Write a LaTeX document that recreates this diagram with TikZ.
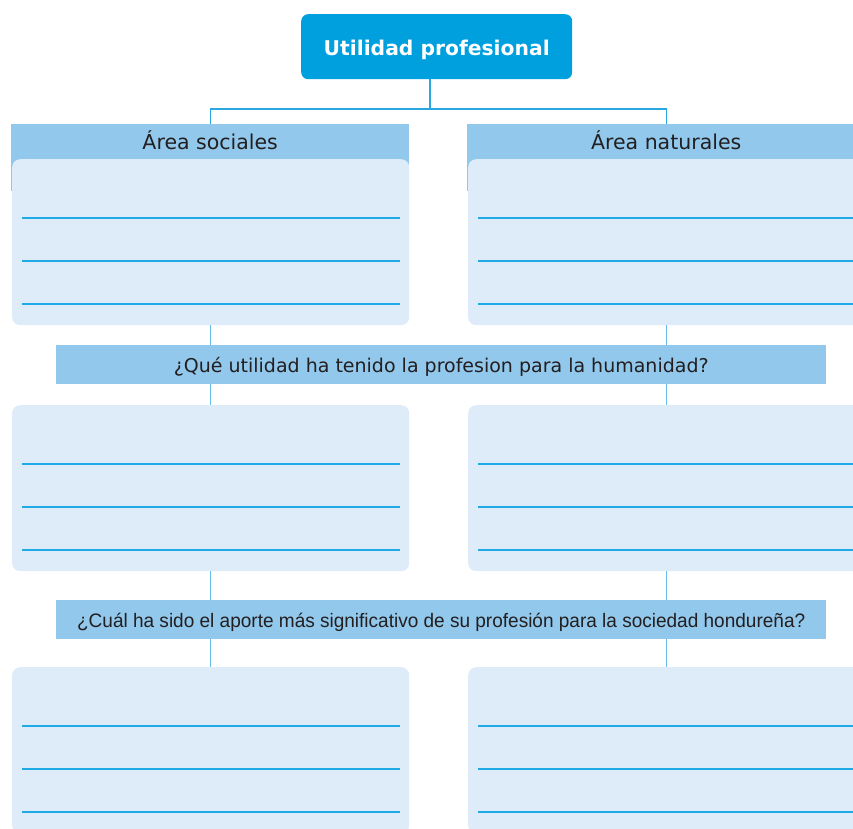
\documentclass[tikz,border=0pt]{standalone}
\usepackage{fontspec}
\setmainfont{DejaVu Sans}
\newfontfamily\arialfont{Liberation Sans}
\definecolor{topblue}{RGB}{0,160,223}
\definecolor{hdrblue}{RGB}{146,200,236}
\definecolor{boxblue}{RGB}{222,235,248}
\definecolor{lineblue}{RGB}{30,170,230}
\definecolor{connblue}{RGB}{41,168,224}
\definecolor{connlight}{RGB}{105,190,236}
\definecolor{txt}{RGB}{35,31,32}
\newcommand{\shiftedtext}[2]{\raisebox{#1}[\height][\depth]{#2}}
\begin{document}
\begin{tikzpicture}[x=1pt,y=-1pt,
  topbox/.style={fill=topblue,rounded corners=7pt,minimum width=271pt,minimum height=65pt,inner sep=0pt,anchor=north west,text=white,font=\bfseries\fontsize{20.3}{24}\selectfont},
  hdrbox/.style={fill=hdrblue,minimum width=398pt,minimum height=35pt,inner sep=0pt,anchor=north west,text=txt,font=\fontsize{20.5}{24}\selectfont},
  areabox/.style={fill=boxblue,rounded corners=8pt,minimum width=397pt,minimum height=166pt,inner sep=0pt,anchor=north west},
  qbar/.style={fill=hdrblue,minimum width=770pt,minimum height=39pt,inner sep=0pt,anchor=north west,text=txt},
  conn/.style={draw=connblue,line width=1.2pt},
  connl/.style={draw=connlight,line width=1.4pt},
  rule/.style={draw=lineblue,line width=1.1pt}]
\useasboundingbox (0,0) rectangle (853,828);
\clip (0,0) rectangle (853,828);
% top
\node[topbox] (top) at (301,14) {\shiftedtext{-3pt}{Utilidad profesional}};
% headers
\node[hdrbox] (hs) at (11,124) {\shiftedtext{2pt}{Área sociales}};
\node[hdrbox] (hn) at (467,124) {\shiftedtext{2pt}{Área naturales}};
\fill[hdrblue] (hs.south west) rectangle ([yshift=-32pt]hs.south east);
\fill[hdrblue] (hn.south west) rectangle ([yshift=-32pt]hn.south east);
% boxes
\node[areabox] (s1) at (12,159) {};
\node[areabox] (n1) at (468,159) {};
\node[qbar,font=\fontsize{19}{22}\selectfont] (q1) at (56,345) {\shiftedtext{-2pt}{¿Qué utilidad ha tenido la profesion para la humanidad?}};
\node[areabox] (s2) at (12,405) {};
\node[areabox] (n2) at (468,405) {};
\node[qbar,font=\arialfont\fontsize{19.5}{22}\selectfont] (q2) at (56,600) {\shiftedtext{-3pt}{\scalebox{0.975}[1]{¿Cuál ha sido el aporte más significativo de su profesión para la sociedad hondureña?}}};
\node[areabox] (s3) at (12,667) {};
\node[areabox] (n3) at (468,667) {};
% writing lines
\foreach \b in {s1,n1,s2,n2,s3,n3}{
  \foreach \d in {59,102,145}{
    \draw[rule] ([xshift=10pt,yshift=-\d pt]\b.north west) -- ([xshift=-9pt,yshift=-\d pt]\b.north east);
  }
}
% connectors
\coordinate (j) at (430,109);
\draw[conn] (top.south -| j) -- (j);
\draw[conn] (hs.north) |- (j) -| (hn.north);
\draw[connl] (s1.south) -- (s1.south |- q1.north);
\draw[connl] (n1.south) -- (n1.south |- q1.north);
\draw[connl] (q1.south -| s2.north) -- (s2.north);
\draw[connl] (q1.south -| n2.north) -- (n2.north);
\draw[connl] (s2.south) -- (s2.south |- q2.north);
\draw[connl] (n2.south) -- (n2.south |- q2.north);
\draw[connl] (q2.south -| s3.north) -- (s3.north);
\draw[connl] (q2.south -| n3.north) -- (n3.north);
\end{tikzpicture}
\end{document}
